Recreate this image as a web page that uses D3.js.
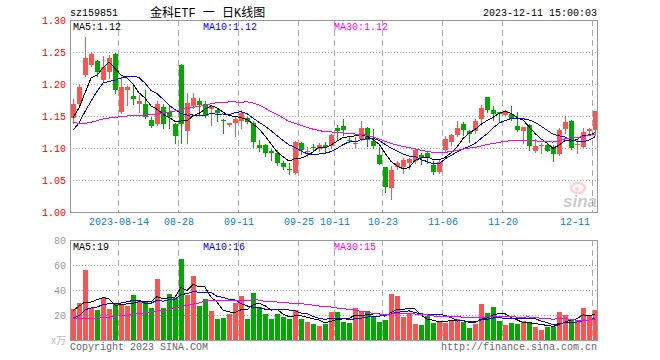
<!DOCTYPE html>
<html><head><meta charset="utf-8">
<script src="https://cdn.jsdelivr.net/npm/d3@7"></script>
<style>body{margin:0;background:#fff}svg text{font-family:"Liberation Mono","DejaVu Sans Mono",monospace}</style>
</head><body>
<svg id="c" width="660" height="360"></svg>
<script>
const dates = ["2023-08-02","2023-08-03","2023-08-04","2023-08-07","2023-08-08","2023-08-09","2023-08-10","2023-08-11","2023-08-14","2023-08-15","2023-08-16","2023-08-17","2023-08-18","2023-08-21","2023-08-22","2023-08-23","2023-08-24","2023-08-25","2023-08-28","2023-08-29","2023-08-30","2023-08-31","2023-09-01","2023-09-04","2023-09-05","2023-09-06","2023-09-07","2023-09-08","2023-09-11","2023-09-12","2023-09-13","2023-09-14","2023-09-15","2023-09-18","2023-09-19","2023-09-20","2023-09-21","2023-09-22","2023-09-25","2023-09-26","2023-09-27","2023-09-28","2023-10-09","2023-10-10","2023-10-11","2023-10-12","2023-10-13","2023-10-16","2023-10-17","2023-10-18","2023-10-19","2023-10-20","2023-10-23","2023-10-24","2023-10-25","2023-10-26","2023-10-27","2023-10-30","2023-10-31","2023-11-01","2023-11-02","2023-11-03","2023-11-06","2023-11-07","2023-11-08","2023-11-09","2023-11-10","2023-11-13","2023-11-14","2023-11-15","2023-11-16","2023-11-17","2023-11-20","2023-11-21","2023-11-22","2023-11-23","2023-11-24","2023-11-27","2023-11-28","2023-11-29","2023-11-30","2023-12-01","2023-12-04","2023-12-05","2023-12-06","2023-12-07","2023-12-08","2023-12-11"];

const open = [1.147,1.168,1.214,1.230,1.236,1.206,1.219,1.247,1.157,1.190,
1.182,1.169,1.168,1.144,1.138,1.164,1.157,1.138,1.230,1.126,
1.165,1.174,1.168,1.161,1.160,1.1443,1.1365,1.139,1.142,1.147,
1.139,1.104,1.104,1.095,1.092,1.077,1.067,1.0615,1.108,1.095,
1.102,1.0985,1.104,1.1026,1.131,1.135,1.1125,1.107,1.1146,1.1313,
1.1104,1.089,1.0698,1.037,1.0708,1.0708,1.077,1.0802,1.089,1.0927,
1.0734,1.063,1.0974,1.1089,1.1208,1.138,1.126,1.126,1.1453,1.1792,
1.159,1.1557,1.152,1.1536,1.135,1.126,1.1365,1.0948,1.103,1.1052,
1.1016,1.0906,1.1297,1.1427,1.105,1.102,1.126,1.1286];
const high = [1.177,1.200,1.274,1.250,1.237,1.243,1.246,1.249,1.211,1.197,
1.197,1.183,1.190,1.148,1.173,1.168,1.167,1.139,1.231,1.186,
1.186,1.178,1.173,1.167,1.162,1.145,1.139,1.148,1.159,1.148,
1.142,1.113,1.107,1.099,1.097,1.080,1.076,1.111,1.110,1.101,
1.106,1.108,1.109,1.122,1.1365,1.146,1.118,1.117,1.1417,1.133,
1.130,1.102,1.071,1.072,1.079,1.0838,1.0838,1.0995,1.0927,1.096,
1.080,1.081,1.1182,1.1224,1.1427,1.140,1.1286,1.1453,1.1667,1.180,
1.165,1.157,1.159,1.165,1.157,1.1328,1.138,1.1141,1.1078,1.108,
1.1047,1.131,1.1505,1.143,1.113,1.131,1.131,1.158];
const low = [1.139,1.165,1.212,1.228,1.212,1.205,1.209,1.186,1.155,1.167,
1.169,1.156,1.147,1.133,1.136,1.132,1.131,1.108,1.108,1.108,
1.163,1.152,1.149,1.136,1.142,1.123,1.134,1.118,1.131,1.139,
1.101,1.095,1.088,1.082,1.073,1.067,1.060,1.060,1.090,1.088,
1.096,1.095,1.094,1.100,1.113,1.121,1.109,1.101,1.113,1.1026,
1.100,1.075,1.032,1.021,1.0667,1.0604,1.0667,1.077,1.075,1.076,
1.060,1.0615,1.094,1.104,1.118,1.1208,1.1089,1.1234,1.1365,1.1557,
1.1443,1.1417,1.1505,1.1443,1.126,1.1078,1.0974,1.0938,1.092,1.0948,
1.080,1.089,1.1234,1.098,1.092,1.101,1.1208,1.1208];
const close = [1.169,1.195,1.240,1.247,1.218,1.226,1.241,1.190,1.196,1.195,
1.177,1.173,1.149,1.135,1.169,1.138,1.148,1.118,1.138,1.170,
1.178,1.167,1.150,1.165,1.154,1.1438,1.139,1.146,1.154,1.140,
1.109,1.100,1.092,1.092,1.077,1.071,1.066,1.110,1.097,1.096,
1.0995,1.105,1.102,1.121,1.126,1.128,1.1115,1.108,1.1313,1.113,
1.1026,1.075,1.0396,1.0656,1.077,1.0813,1.0823,1.0969,1.084,1.0854,
1.063,1.0786,1.1146,1.1208,1.1313,1.1276,1.1224,1.1417,1.1625,1.1599,
1.1536,1.1536,1.1573,1.1458,1.1286,1.1323,1.1036,1.1036,1.104,1.0958,
1.0906,1.1276,1.140,1.100,1.107,1.125,1.1297,1.1573];
// volume in 万手
const volume = [25,30,56,26,24,34,25,30,28,27.5,
36,31.5,31.5,26,49,26,37,34,64.5,36,
51,27.5,33,23.5,17,18,21,30,35,17,
38,26.5,21,16.5,21,18.5,16.5,24,17,14.5,
13,11.5,13,22.6,22.6,14.5,13.7,26,22.6,23.4,
18.6,14.5,16,37,35.5,18.6,21,13,12,19.4,
13.7,15.4,13.7,16,17,14.5,9.7,13,29,21.8,
26.7,15.4,12,13.7,13,15.4,14.5,10.5,8,10.5,
10.5,22.6,20,16,16,26,20,24];

// moving-average values at the left edge (windows reach back before the shown data)
const ma5Lead = [1.147,1.1625,1.186,1.2094];
const ma10Lead = [1.1276,1.139,1.157,1.173,1.1885,1.2016,1.204,1.2057,1.2094];
const ma30Lead = [1.1406,1.138,1.1385,1.140,1.1427,1.1453,1.1469,1.148,1.149,1.15,1.1505,1.151,1.1516,1.152,1.153,1.1547,1.1563,1.1578,1.16,1.162,1.1635,1.165,1.1667,1.169,1.1708,1.1714,1.172,1.172,1.1714];
const vma5Lead = [23.4,27,30.4,30.4];
const vma10Lead = [17.5,19.4,24.2,25.6,26.4,28.3,29,29,29.6];
const vma30Lead = [17,17.2,17.5,17.5,17.5,18.3,18.3,18.9,19.4,19.7,20.7,21,21.5,22.4,23.2,23.7,24.2,25.3,27,27.7,28.6,29.6,31,31.5,31.5,31.5,31.5,31.5,31.5];

const tickDates = ["2023-08-14","2023-08-28","2023-09-11","2023-09-25","2023-10-11","2023-10-23","2023-11-06","2023-11-20","2023-12-11"];
const tickLabels = ["2023-08-14","08-28","09-11","09-25","10-11","10-23","11-06","11-20","12-11"];
const priceTicks = [1.00,1.05,1.10,1.15,1.20,1.25,1.30];
const volTicks = [20,40,60,80];
const priceMaLabels = ["MA5:1.12","MA10:1.12","MA30:1.12"];
const volMaLabels = ["MA5:19","MA10:16","MA30:15"];

const RED="#ff5252", GREEN="#00a800", GRID="#aaaaaa", BORDER="#999999";
const maColors=["#000000","#0000ff","#ff00ff"];
const L=70, R=597, PT=20, PB=212, VT=240, VB=340;

const svg=d3.select("#c");
const n=dates.length;
const x=d3.scaleLinear().domain([0,n-1]).range([73,595]);
const cx=i=>Math.round(x(i));
const y=d3.scaleLinear().domain([1.00,1.30]).range([PB,PT]);
const yv=d3.scaleLinear().domain([0,80]).range([VB,VT]);

function ma(arr,k,lead){return arr.map((v,i)=> i<k-1 ? lead[i] : d3.mean(arr.slice(i-k+1,i+1)));}
const up=i=>close[i]>=open[i];

// header
svg.append("text").attr("x",70).attr("y",16).attr("font-size",10).attr("fill","#000").text("sz159851");
svg.append("text").attr("x",150).attr("y",17).attr("font-size",12).attr("fill","#000")
  .style("font-family",'"Liberation Mono","Noto Sans CJK SC",monospace').text("金科ETF 一 日K线图");
svg.append("text").attr("x",597).attr("y",16).attr("text-anchor","end").attr("font-size",10).attr("fill","#000").text("2023-12-11 15:00:03");

// horizontal gridlines
const pg=svg.append("g").attr("shape-rendering","crispEdges");
priceTicks.filter(t=>t>1.0&&t<1.3).forEach(t=>{
  pg.append("line").attr("x1",L).attr("x2",R).attr("y1",Math.round(y(t))+0.5).attr("y2",Math.round(y(t))+0.5)
    .attr("stroke",GRID).attr("stroke-dasharray","1,2");
});
volTicks.filter(t=>t<80).forEach(t=>{
  pg.append("line").attr("x1",L).attr("x2",R).attr("y1",Math.round(yv(t))+0.5).attr("y2",Math.round(yv(t))+0.5)
    .attr("stroke",GRID).attr("stroke-dasharray","1,2");
});
// vertical dashed lines
tickDates.forEach(d=>{
  const i=dates.indexOf(d); const xx=cx(i)-2.5;
  pg.append("line").attr("x1",xx).attr("x2",xx).attr("y1",PT).attr("y2",PB).attr("stroke",GRID).attr("stroke-dasharray","6,4");
  pg.append("line").attr("x1",xx).attr("x2",xx).attr("y1",VT).attr("y2",VB).attr("stroke",GRID).attr("stroke-dasharray","6,4");
});

// sina watermark
const wm=svg.append("g").attr("opacity",0.3);
wm.append("ellipse").attr("cx",578).attr("cy",188).attr("rx",7).attr("ry",5).attr("fill","none").attr("stroke","#ff6666").attr("stroke-width",2.5);
wm.append("circle").attr("cx",577).attr("cy",189).attr("r",2).attr("fill","#ff6666");
wm.append("text").attr("x",597).attr("y",207).attr("text-anchor","end").attr("font-size",17).attr("font-weight","bold").attr("font-style","italic")
  .style("font-family","Liberation Sans, Arial, sans-serif").attr("fill","#555").text("sina");

// candles
const cg=svg.append("g").attr("shape-rendering","crispEdges");
d3.range(n).forEach(i=>{
  const c=up(i)?RED:GREEN, X=cx(i);
  cg.append("line").attr("x1",X+0.5).attr("x2",X+0.5).attr("y1",Math.round(y(high[i]))).attr("y2",Math.round(y(low[i]))+1).attr("stroke",c);
  const t=Math.round(y(Math.max(open[i],close[i]))), b=Math.round(y(Math.min(open[i],close[i])));
  cg.append("rect").attr("x",X-2).attr("y",t).attr("width",5).attr("height",Math.max(1,b-t)).attr("fill",c);
});
// volume bars
d3.range(n).forEach(i=>{
  const X=cx(i), t=Math.round(yv(volume[i]));
  cg.append("rect").attr("x",X-2).attr("y",t).attr("width",5).attr("height",VB-t).attr("fill",up(i)?RED:GREEN);
});

// MA lines
const line=(ys)=>d3.line().x((d,i)=>x(i)).y(d=>ys(d));
[[ma(close,5,ma5Lead),0],[ma(close,10,ma10Lead),1],[ma(close,30,ma30Lead),2]].forEach(([s,k])=>{
  svg.append("path").attr("d",line(y)(s)).attr("fill","none").attr("stroke",maColors[k]).attr("stroke-width",1).attr("shape-rendering","crispEdges");
});
[[ma(volume,5,vma5Lead),0],[ma(volume,10,vma10Lead),1],[ma(volume,30,vma30Lead),2]].forEach(([s,k])=>{
  svg.append("path").attr("d",line(yv)(s)).attr("fill","none").attr("stroke",maColors[k]).attr("stroke-width",1).attr("shape-rendering","crispEdges");
});

// borders
const bg=svg.append("g").attr("shape-rendering","crispEdges");
bg.append("rect").attr("x",L+0.5).attr("y",PT+0.5).attr("width",R-L).attr("height",PB-PT).attr("fill","none").attr("stroke",BORDER);
bg.append("rect").attr("x",L+0.5).attr("y",VT+0.5).attr("width",R-L).attr("height",VB-VT).attr("fill","none").attr("stroke",BORDER);

// y labels
priceTicks.forEach(t=>{
  svg.append("text").attr("x",66).attr("y",y(t)+4).attr("text-anchor","end").attr("font-size",10).attr("fill","#ff0000").text(t.toFixed(2));
});
volTicks.forEach(t=>{
  svg.append("text").attr("x",66).attr("y",yv(t)+4).attr("text-anchor","end").attr("font-size",10).attr("fill","#999").text(t);
});
svg.append("text").attr("x",66).attr("y",VB+4).attr("text-anchor","end").attr("font-size",10).attr("fill","#bbb")
  .style("font-family",'"Noto Sans CJK SC",sans-serif').text("x万");

// x labels
tickDates.forEach((d,k)=>{
  const i=dates.indexOf(d); const last=k===tickDates.length-1;
  svg.append("text").attr("x",last?590:cx(i)-2).attr("y",225).attr("text-anchor",last?"end":"middle")
    .attr("font-size",10).attr("fill","#0a80d0").text(tickLabels[k]);
});

// MA labels
const mx=[73,203,334];
priceMaLabels.forEach((t,k)=>svg.append("text").attr("x",mx[k]).attr("y",30).attr("font-size",10).attr("fill",maColors[k]).text(t));
volMaLabels.forEach((t,k)=>svg.append("text").attr("x",mx[k]).attr("y",250).attr("font-size",10).attr("fill",maColors[k]).text(t));

// footer
svg.append("text").attr("x",70).attr("y",350).attr("font-size",10).attr("fill","#666").text("Copyright 2023 SINA.COM");
svg.append("text").attr("x",597).attr("y",350).attr("text-anchor","end").attr("font-size",10).attr("fill","#666").text("http://finance.sina.com.cn");
</script>
</body></html>
